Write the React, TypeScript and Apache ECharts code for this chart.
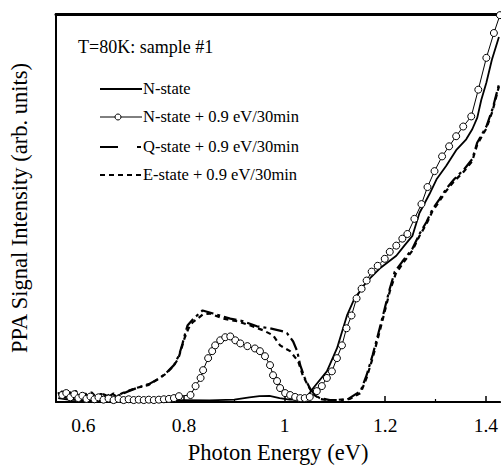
import React, { useEffect, useRef } from "react";
import * as echarts from "echarts";

const xTickLabels = [0.6, 0.8, 1.0, 1.2, 1.4];
const xMinorTicks = [0.7, 0.9, 1.1, 1.3];

const legendNames = [
  "N-state",
  "N-state + 0.9 eV/30min",
  "Q-state + 0.9 eV/30min",
  "E-state + 0.9 eV/30min",
];

// N-state (solid)
const nState: [number, number][] = [
  [0.55, 1.0], [0.57, 0.6], [0.6, 0.4], [0.65, 0.3], [0.7, 0.4], [0.75, 0.3],
  [0.8, 0.5], [0.85, 0.4], [0.9, 0.6], [0.93, 1.2], [0.95, 1.5], [0.97, 1.6],
  [0.99, 1.0], [1.01, 0.6], [1.03, 0.6], [1.045, 1.5], [1.057, 3.6], [1.084, 7.9],
  [1.104, 13.8], [1.124, 22.3], [1.139, 26.7], [1.163, 31.0], [1.189, 34.4],
  [1.222, 37.7], [1.238, 40.3], [1.254, 42.8], [1.268, 48.7], [1.288, 53.6],
  [1.302, 57.4], [1.321, 60.8], [1.341, 64.9], [1.361, 67.7], [1.373, 70.3],
  [1.383, 73.3], [1.391, 77.9], [1.401, 82.3], [1.412, 88.2], [1.426, 94.1],
];

// N-state + 0.9 eV/30min (circles)
const nStateIrr: [number, number][] = [
  [0.558, 1.8], [0.566, 2.3], [0.574, 1.2], [0.582, 2.0], [0.59, 1.0], [0.598, 1.6],
  [0.606, 0.8], [0.614, 1.4], [0.622, 0.7], [0.63, 1.2], [0.64, 0.6], [0.65, 0.9],
  [0.66, 0.5], [0.67, 0.8], [0.68, 0.5], [0.69, 0.7], [0.7, 0.5], [0.71, 0.6],
  [0.72, 0.5], [0.73, 0.6], [0.74, 0.5], [0.75, 0.6], [0.76, 0.7], [0.77, 0.8],
  [0.78, 1.0], [0.79, 1.5], [0.813, 1.8], [0.823, 4.1], [0.833, 6.2], [0.838, 8.2],
  [0.848, 11.3], [0.856, 13.1], [0.862, 14.6], [0.872, 15.9], [0.882, 16.7],
  [0.892, 16.9], [0.902, 15.9], [0.912, 15.1], [0.926, 14.4], [0.941, 13.8],
  [0.951, 13.1], [0.961, 11.8], [0.971, 9.5], [0.977, 6.9], [0.985, 5.4],
  [0.991, 3.6], [1.001, 2.3], [1.011, 1.8], [1.021, 1.3], [1.031, 1.0], [1.04, 1.0],
  [1.05, 1.3], [1.064, 2.8], [1.074, 4.1], [1.084, 6.2], [1.094, 7.9], [1.104, 11.3],
  [1.114, 14.6], [1.123, 19.0], [1.133, 22.3], [1.143, 26.7], [1.153, 29.2],
  [1.163, 31.3], [1.173, 33.6], [1.185, 35.1], [1.199, 36.9], [1.209, 38.7],
  [1.222, 40.3], [1.234, 42.1], [1.244, 43.3], [1.258, 47.2], [1.272, 51.0],
  [1.284, 55.4], [1.298, 59.5], [1.313, 63.3], [1.327, 65.9], [1.341, 68.5],
  [1.355, 71.0], [1.371, 73.6], [1.385, 80.5], [1.401, 88.7], [1.416, 95.1],
  [1.428, 99.7],
];

// Q-state + 0.9 eV/30min (long dash - short dash)
const qState: [number, number][] = [
  [0.55, 2.5], [0.556, 1.2], [0.562, 3.0], [0.568, 1.5], [0.574, 2.6], [0.58, 1.0],
  [0.588, 2.4], [0.596, 1.3], [0.604, 2.2], [0.612, 1.1], [0.62, 2.0], [0.63, 1.2],
  [0.64, 2.0], [0.65, 1.4], [0.66, 2.2], [0.668, 1.6], [0.69, 2.8], [0.71, 3.8],
  [0.73, 4.6], [0.75, 6.0], [0.765, 7.5], [0.78, 9.5], [0.79, 12.0], [0.797, 15.0],
  [0.803, 18.0], [0.807, 19.7], [0.819, 21.5], [0.837, 23.6], [0.858, 22.8],
  [0.892, 21.5], [0.918, 20.8], [0.945, 19.5], [0.971, 19.0], [0.997, 18.2],
  [1.005, 17.7], [1.017, 15.6], [1.025, 13.1], [1.031, 9.5], [1.04, 6.2], [1.05, 3.6],
  [1.06, 1.8], [1.07, 1.0], [1.09, 0.5], [1.123, 0.5], [1.151, 2.8], [1.163, 6.9],
  [1.175, 12.1], [1.189, 19.0], [1.199, 24.1], [1.209, 29.2], [1.219, 33.6],
  [1.234, 36.2], [1.254, 39.5], [1.268, 43.3], [1.282, 46.4], [1.294, 49.7],
  [1.308, 52.3], [1.321, 54.9], [1.337, 57.4], [1.357, 60.0], [1.373, 62.6],
  [1.383, 66.9], [1.401, 71.0], [1.413, 75.4], [1.426, 81.8],
];

// E-state + 0.9 eV/30min (short dashes)
const eState: [number, number][] = [
  [0.552, 1.8], [0.558, 2.8], [0.565, 1.0], [0.571, 2.4], [0.578, 1.6], [0.585, 2.9],
  [0.593, 1.1], [0.6, 2.3], [0.608, 1.5], [0.616, 2.5], [0.625, 1.3], [0.635, 2.1],
  [0.645, 1.2], [0.655, 2.3], [0.665, 1.5], [0.678, 2.3], [0.704, 3.6], [0.73, 4.4],
  [0.748, 5.9], [0.763, 7.2], [0.779, 9.2], [0.789, 11.3], [0.795, 13.8],
  [0.801, 16.4], [0.809, 19.0], [0.817, 20.5], [0.827, 21.5], [0.838, 22.6],
  [0.852, 22.8], [0.878, 21.5], [0.906, 20.8], [0.932, 19.7], [0.957, 18.5],
  [0.977, 17.2], [0.991, 14.6], [1.011, 13.1], [1.027, 10.5], [1.036, 6.9],
  [1.046, 4.4], [1.056, 2.1], [1.07, 0.8], [1.09, 0.4], [1.13, 0.8], [1.151, 2.3],
  [1.163, 6.2], [1.175, 11.3], [1.189, 18.2], [1.199, 23.3], [1.209, 28.5],
  [1.221, 33.1], [1.236, 35.9], [1.254, 39.0], [1.268, 42.8], [1.282, 45.9],
  [1.294, 49.2], [1.308, 51.8], [1.321, 54.4], [1.337, 56.9], [1.357, 59.5],
  [1.373, 62.1], [1.383, 66.4], [1.401, 70.5], [1.413, 74.9], [1.426, 81.3],
];

const X_MIN = 0.5456;
const X_MAX = 1.4283;
const FONT = "'Liberation Serif', 'Times New Roman', serif";

export default function App() {
  const ref = useRef<HTMLDivElement>(null);
  useEffect(() => {
    document.body.style.margin = "0";
    if (!ref.current) return;
    const chart = echarts.init(ref.current, null, { renderer: "svg" });
    const fmt = (v: number) => String(Number(v.toFixed(1)));
    const baseX = {
      type: "value",
      min: X_MIN,
      max: X_MAX,
      splitLine: { show: false },
    };
    const legendX1 = 100;
    const legendX2 = 142;
    const rows = [89, 117, 147, 175];
    const textStyle = (t: string, y: number) => ({
      type: "text",
      left: 143,
      top: y - 9,
      style: { text: t, font: `16.5px ${FONT}`, fill: "#000" },
    });
    chart.setOption({
      animation: false,
      backgroundColor: "#fff",
      grid: { left: 55, right: 0, top: 14, bottom: 65 },
      xAxis: [
        {
          ...baseX,
          position: "bottom",
          name: "Photon Energy (eV)",
          nameLocation: "middle",
          nameGap: 39,
          nameTextStyle: { fontFamily: FONT, fontSize: 22.5, color: "#000" },
          axisLine: { show: true, lineStyle: { color: "#000", width: 2 } },
          axisTick: {
            show: true,
            inside: true,
            length: 6,
            lineStyle: { color: "#000", width: 1.5 },
            customValues: xTickLabels,
          },
          axisLabel: {
            show: true,
            margin: 13,
            fontFamily: FONT,
            fontSize: 19.5,
            color: "#000",
            customValues: xTickLabels,
            formatter: fmt,
          },
        },
        {
          ...baseX,
          position: "bottom",
          axisLine: { show: false },
          axisTick: {
            show: true,
            inside: true,
            length: 3,
            lineStyle: { color: "#000", width: 1.2 },
            customValues: xMinorTicks,
          },
          axisLabel: { show: false },
        },
        {
          ...baseX,
          position: "top",
          axisLine: { show: true, lineStyle: { color: "#000", width: 3 } },
          axisTick: { show: false },
          axisLabel: { show: false },
        },
      ],
      yAxis: {
        type: "value",
        min: 0,
        max: 100,
        name: "PPA Signal Intensity (arb. units)",
        nameLocation: "middle",
        nameGap: 25,
        nameTextStyle: { fontFamily: FONT, fontSize: 22.5, color: "#000" },
        axisLine: { show: true, lineStyle: { color: "#000", width: 2 } },
        axisTick: { show: false },
        axisLabel: { show: false },
        splitLine: { show: false },
      },
      graphic: [
        {
          type: "text",
          left: 78,
          top: 38,
          style: { text: "T=80K: sample #1", font: `18px ${FONT}`, fill: "#000" },
        },
        {
          type: "line",
          shape: { x1: legendX1, y1: rows[0], x2: legendX2, y2: rows[0] },
          style: { stroke: "#000", lineWidth: 1.8 },
        },
        textStyle(legendNames[0], rows[0]),
        {
          type: "line",
          shape: { x1: legendX1, y1: rows[1], x2: legendX2, y2: rows[1] },
          style: { stroke: "#000", lineWidth: 1 },
        },
        {
          type: "circle",
          shape: { cx: 118, cy: rows[1], r: 3 },
          style: { fill: "#fff", stroke: "#000", lineWidth: 1 },
        },
        textStyle(legendNames[1], rows[1]),
        {
          type: "line",
          shape: { x1: legendX1, y1: rows[2], x2: 118, y2: rows[2] },
          style: { stroke: "#000", lineWidth: 2 },
        },
        {
          type: "line",
          shape: { x1: 137, y1: rows[2], x2: 141, y2: rows[2] },
          style: { stroke: "#000", lineWidth: 2 },
        },
        textStyle(legendNames[2], rows[2]),
        {
          type: "line",
          shape: { x1: legendX1, y1: rows[3], x2: legendX2, y2: rows[3] },
          style: { stroke: "#000", lineWidth: 1.8, lineDash: [5, 4] },
        },
        textStyle(legendNames[3], rows[3]),
      ],
      series: [
        {
          name: legendNames[0],
          type: "line",
          data: nState,
          showSymbol: false,
          symbol: "none",
          lineStyle: { color: "#000", width: 1.8 },
          z: 2,
        },
        {
          name: legendNames[2],
          type: "line",
          data: qState,
          symbol: "none",
          lineStyle: { color: "#000", width: 2.2, type: [13, 4, 3, 4] },
          z: 2,
        },
        {
          name: legendNames[3],
          type: "line",
          data: eState,
          symbol: "none",
          lineStyle: { color: "#000", width: 2.2, type: [5, 4] },
          z: 2,
        },
        {
          name: legendNames[1],
          type: "line",
          data: nStateIrr,
          symbol: "circle",
          symbolSize: 7,
          showAllSymbol: true,
          itemStyle: { color: "#fff", borderColor: "#000", borderWidth: 1 },
          lineStyle: { color: "#000", width: 1 },
          z: 3,
        },
      ],
    });
    return () => chart.dispose();
  }, []);
  return <div ref={ref} style={{ width: 501, height: 469 }} />;
}
